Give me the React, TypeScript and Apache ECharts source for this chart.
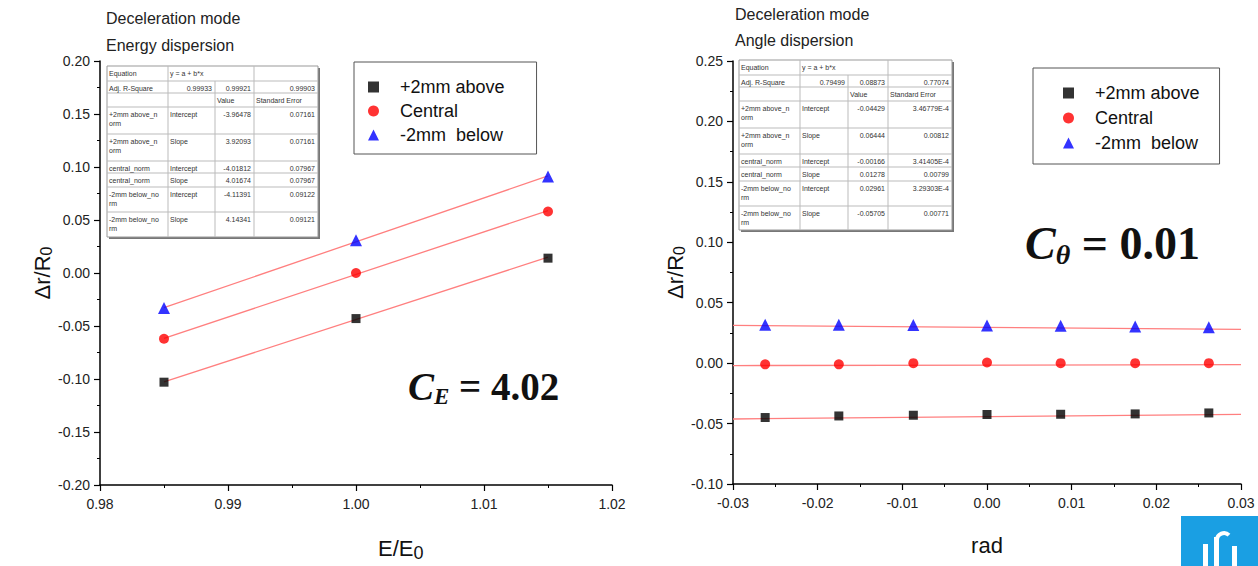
import React, { useEffect, useRef } from "react";
import * as echarts from "echarts";

// ---------- data ----------
const seriesNames = ["+2mm above", "Central", "-2mm  below"];

// Energy dispersion (left)
const energyX = [0.985, 1.0, 1.015];
const energyAbove = [-0.103, -0.043, 0.014];
const energyCentral = [-0.062, 0.0, 0.058];
const energyBelow = [-0.033, 0.031, 0.091];
const energyFitX = [0.985, 1.015];
const energyFitAbove = [-0.1027, 0.015];
const energyFitCentral = [-0.0616, 0.0589];
const energyFitBelow = [-0.0327, 0.0916];

// Angle dispersion (right)
const angleX = [-0.0262, -0.0175, -0.0087, 0.0, 0.0087, 0.0175, 0.0262];
const angleAbove = [-0.045, -0.0437, -0.0431, -0.0425, -0.0423, -0.042, -0.0412];
const angleCentral = [-0.001, -0.001, 0.0, 0.0005, 0.0, 0.0, 0.0];
const angleBelow = [0.0318, 0.0318, 0.0316, 0.0312, 0.0309, 0.0304, 0.0298];
const angleFitX = [-0.03, 0.03];
const angleFitAbove = [-0.0462, -0.0424];
const angleFitCentral = [-0.002, -0.0013];
const angleFitBelow = [0.0313, 0.0279];

// Fit tables
const energyTable = [
  ["Equation", "y = a + b*x", "", ""],
  ["Adj. R-Square", "0.99933", "0.99921", "0.99903"],
  ["", "", "Value", "Standard Error"],
  ["+2mm above_n\norm", "Intercept", "-3.96478", "0.07161"],
  ["+2mm above_n\norm", "Slope", "3.92093", "0.07161"],
  ["central_norm", "Intercept", "-4.01812", "0.07967"],
  ["central_norm", "Slope", "4.01674", "0.07967"],
  ["-2mm below_no\nrm", "Intercept", "-4.11391", "0.09122"],
  ["-2mm below_no\nrm", "Slope", "4.14341", "0.09121"],
];
const angleTable = [
  ["Equation", "y = a + b*x", "", ""],
  ["Adj. R-Square", "0.79499", "0.08873", "0.77074"],
  ["", "", "Value", "Standard Error"],
  ["+2mm above_n\norm", "Intercept", "-0.04429", "3.46779E-4"],
  ["+2mm above_n\norm", "Slope", "0.06444", "0.00812"],
  ["central_norm", "Intercept", "-0.00166", "3.41405E-4"],
  ["central_norm", "Slope", "0.01278", "0.00799"],
  ["-2mm below_no\nrm", "Intercept", "0.02961", "3.29303E-4"],
  ["-2mm below_no\nrm", "Slope", "-0.05705", "0.00771"],
];

const FONT = "'Liberation Sans', Arial, sans-serif";
const MATH = "'Liberation Serif', 'DejaVu Serif', serif";

function pairs(xs: number[], ys: number[]) {
  return xs.map((x, i) => [x, ys[i]]);
}

function makeTable(colX: number[], rowY: number[], rows: string[][]) {
  const els: any[] = [];
  const x0 = colX[0];
  const x1 = colX[colX.length - 1];
  const y0 = rowY[0];
  const y1 = rowY[rowY.length - 1];
  els.push({ type: "rect", shape: { x: x0 + 2, y: y0 + 2, width: x1 - x0, height: y1 - y0 }, style: { fill: "#777" }, z: 10 });
  els.push({ type: "rect", shape: { x: x0, y: y0, width: x1 - x0, height: y1 - y0 }, style: { fill: "#fff", stroke: "#999", lineWidth: 1 }, z: 11 });
  for (let r = 1; r < rowY.length - 1; r++) {
    els.push({ type: "line", shape: { x1: x0, y1: rowY[r], x2: x1, y2: rowY[r] }, style: { stroke: "#bbb", lineWidth: 1 }, z: 12 });
  }
  for (let c = 1; c < colX.length - 1; c++) {
    const startRow = c === 2 ? 1 : 0;
    els.push({ type: "line", shape: { x1: colX[c], y1: rowY[startRow], x2: colX[c], y2: y1 }, style: { stroke: "#bbb", lineWidth: 1 }, z: 12 });
  }
  rows.forEach((row, r) => {
    row.forEach((txt, c) => {
      if (!txt) return;
      const right = (c >= 2 && r !== 2) || (r === 1 && c === 1);
      els.push({
        type: "text",
        x: right ? colX[c + 1] - 3 : colX[c] + 2,
        y: rowY[r] + 3,
        style: { text: txt, fontSize: 7, lineHeight: 9, fontFamily: FONT, fill: "#333", align: right ? "right" : "left", verticalAlign: "top" },
        z: 13,
      });
    });
  });
  return els;
}

function formula(x: number, y: number, sub: string, rest: string, size: number) {
  return {
    type: "text", x, y, z: 20,
    style: {
      text: `{c|C}{s|${sub}}{n|${rest}}`, verticalAlign: "middle",
      rich: {
        c: { fontSize: size, fontWeight: "bold", fontStyle: "italic", fontFamily: MATH, fill: "#111" },
        s: { fontSize: Math.round(size * 0.6), fontWeight: "bold", fontStyle: "italic", fontFamily: MATH, fill: "#111", padding: [Math.round(size * 0.5), 0, 0, 0] },
        n: { fontSize: size, fontWeight: "bold", fontFamily: MATH, fill: "#111" },
      },
    },
  };
}

export default function App() {
  const ref = useRef<HTMLDivElement>(null);
  useEffect(() => {
    document.body.style.margin = "0";
    const chart = echarts.init(ref.current!, undefined, { renderer: "svg" });

    const axisCommon = {
      axisLine: { show: true, onZero: false, lineStyle: { color: "#000", width: 1.5 } },
      axisTick: { show: true, inside: false, length: 6, lineStyle: { color: "#000", width: 1.2 } },
      minorTick: { show: true, splitNumber: 2, length: 3, lineStyle: { color: "#000", width: 1 } },
      splitLine: { show: false },
      minorSplitLine: { show: false },
      axisLabel: { color: "#222", fontSize: 14, fontFamily: FONT },
    };

    const fitStyle = { color: "#ff7f7f", width: 1.3 };

    const scatter = (name: string, xi: number, data: number[][], symbol: string, size: number, color: string) => ({
      name,
      type: "scatter",
      xAxisIndex: xi,
      yAxisIndex: xi,
      data,
      symbol,
      symbolSize: size,
      itemStyle: { color },
      z: 5,
    });
    const fit = (xi: number, data: number[][]) => ({
      name: "fit",
      type: "line",
      xAxisIndex: xi,
      yAxisIndex: xi,
      data,
      symbol: "none",
      lineStyle: fitStyle,
      z: 3,
      silent: true,
    });

    const legendCommon = {
      orient: "vertical",
      backgroundColor: "#fff",
      borderColor: "#555",
      borderWidth: 1,
      itemWidth: 11,
      itemHeight: 11,
      textStyle: { fontSize: 18, fontFamily: FONT, color: "#111", padding: [0, 0, 0, 16] },
      data: [
        { name: seriesNames[0], icon: "rect" },
        { name: seriesNames[1], icon: "circle" },
        { name: seriesNames[2], icon: "triangle" },
      ],
    };

    const graphics: any[] = [
      { type: "text", x: 106, y: 18, style: { text: "Deceleration mode", fontSize: 16, fontFamily: FONT, fill: "#222", verticalAlign: "middle" } },
      { type: "text", x: 106, y: 45, style: { text: "Energy dispersion", fontSize: 16, fontFamily: FONT, fill: "#222", verticalAlign: "middle" } },
      { type: "text", x: 735, y: 14, style: { text: "Deceleration mode", fontSize: 16, fontFamily: FONT, fill: "#222", verticalAlign: "middle" } },
      { type: "text", x: 735, y: 40, style: { text: "Angle dispersion", fontSize: 16, fontFamily: FONT, fill: "#222", verticalAlign: "middle" } },
      {
        type: "text", x: 378, y: 548,
        style: {
          text: "{a|E/E}{b|0}", verticalAlign: "middle",
          rich: { a: { fontSize: 22, fontFamily: FONT, fill: "#111" }, b: { fontSize: 18, fontFamily: FONT, fill: "#111", padding: [10, 0, 0, 0] } },
        },
      },
      formula(408, 386, "E", " = 4.02", 39),
      formula(1025, 243, "θ", " = 0.01", 46),
      // logo
      { type: "rect", shape: { x: 1181, y: 516, width: 77, height: 50 }, style: { fill: "#1a9fe3" } },
      { type: "rect", shape: { x: 1203, y: 544, width: 5, height: 22 }, style: { fill: "#fff" } },
      { type: "rect", shape: { x: 1214, y: 537, width: 5, height: 29 }, style: { fill: "#fff" } },
      { type: "arc", shape: { cx: 1224, cy: 540, r: 7, startAngle: Math.PI, endAngle: Math.PI * 1.75 }, style: { stroke: "#fff", lineWidth: 4, fill: "none" } },
      { type: "rect", shape: { x: 1232, y: 546, width: 5, height: 20 }, style: { fill: "#fff" } },
      ...makeTable([107, 168, 215, 254, 318], [66, 81, 93, 107, 134, 161, 173, 187, 212, 237], energyTable),
      ...makeTable([739, 800, 848, 888, 952], [60, 75, 87, 101, 128, 154, 167, 181, 206, 230], angleTable),
    ];

    chart.setOption({
      animation: false,
      backgroundColor: "#fff",
      grid: [
        { left: 100, top: 61, width: 512, height: 424 },
        { left: 733, top: 61, width: 508, height: 423 },
      ],
      xAxis: [
        { ...axisCommon, type: "value", gridIndex: 0, min: 0.98, max: 1.02, interval: 0.01,
          axisLabel: { ...axisCommon.axisLabel, margin: 12, formatter: (v: number) => v.toFixed(2) } },
        { ...axisCommon, type: "value", gridIndex: 1, min: -0.03, max: 0.03, interval: 0.01,
          name: "rad", nameLocation: "middle", nameGap: 50,
          nameTextStyle: { fontSize: 22, fontFamily: FONT, color: "#111" },
          axisLabel: { ...axisCommon.axisLabel, margin: 12, formatter: (v: number) => v.toFixed(2) } },
      ],
      yAxis: [
        { ...axisCommon, type: "value", gridIndex: 0, min: -0.2, max: 0.2, interval: 0.05,
          name: "{a|Δr/R}{b|0}", nameLocation: "middle", nameRotate: 90, nameGap: 46,
          nameTextStyle: { rich: { a: { fontSize: 22, fontFamily: FONT, color: "#111" }, b: { fontSize: 16, fontFamily: FONT, color: "#111", padding: [8, 0, 0, 0] } } },
          axisLabel: { ...axisCommon.axisLabel, margin: 10, formatter: (v: number) => v.toFixed(2) } },
        { ...axisCommon, type: "value", gridIndex: 1, min: -0.1, max: 0.25, interval: 0.05,
          name: "{a|Δr/R}{b|0}", nameLocation: "middle", nameRotate: 90, nameGap: 40,
          nameTextStyle: { rich: { a: { fontSize: 22, fontFamily: FONT, color: "#111" }, b: { fontSize: 16, fontFamily: FONT, color: "#111", padding: [8, 0, 0, 0] } } },
          axisLabel: { ...axisCommon.axisLabel, margin: 10, formatter: (v: number) => v.toFixed(2) } },
      ],
      legend: [
        { ...legendCommon, left: 354, top: 62, padding: [16, 32, 10, 14], itemGap: 6 },
        { ...legendCommon, left: 1033, top: 68, padding: [16, 20, 12, 30], itemGap: 7 },
      ],
      graphic: graphics,
      series: [
        fit(0, pairs(energyFitX, energyFitAbove)),
        fit(0, pairs(energyFitX, energyFitCentral)),
        fit(0, pairs(energyFitX, energyFitBelow)),
        scatter(seriesNames[0], 0, pairs(energyX, energyAbove), "rect", 9, "#000"),
        scatter(seriesNames[1], 0, pairs(energyX, energyCentral), "circle", 10, "#ff0000"),
        scatter(seriesNames[2], 0, pairs(energyX, energyBelow), "triangle", 12, "#0000ff"),
        fit(1, pairs(angleFitX, angleFitAbove)),
        fit(1, pairs(angleFitX, angleFitCentral)),
        fit(1, pairs(angleFitX, angleFitBelow)),
        scatter(seriesNames[0], 1, pairs(angleX, angleAbove), "rect", 9, "#000"),
        scatter(seriesNames[1], 1, pairs(angleX, angleCentral), "circle", 10, "#ff0000"),
        scatter(seriesNames[2], 1, pairs(angleX, angleBelow), "triangle", 12, "#0000ff"),
      ],
    });
    return () => chart.dispose();
  }, []);
  return <div ref={ref} style={{ position: "absolute", left: 0, top: 0, width: 1258, height: 566 }} />;
}
